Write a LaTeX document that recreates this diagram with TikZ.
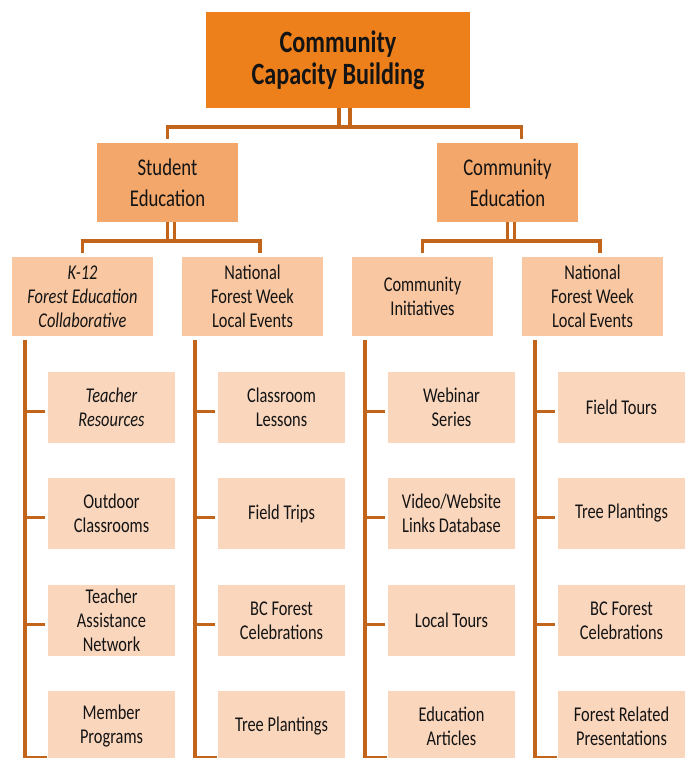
\documentclass[tikz,border=0pt]{standalone}
\usepackage{fontspec}
\setmainfont{Carlito}[FakeStretch=0.78]
\usetikzlibrary{calc}
\definecolor{topc}{HTML}{EE801C}
\definecolor{midc}{HTML}{F4A76B}
\definecolor{lthree}{HTML}{F9C7A1}
\definecolor{leafc}{HTML}{FAD6BD}
\definecolor{linec}{HTML}{C2651B}
\definecolor{txt}{HTML}{141414}
\tikzset{
  box/.style={inner sep=0pt, align=center, text=txt},
  topbox/.style={box, fill=topc, minimum width=264pt, minimum height=96pt, font=\fontsize{31}{32}\selectfont\bfseries},
  midbox/.style={box, fill=midc, minimum width=141pt, minimum height=79pt, font=\fontsize{24}{31}\selectfont},
  lvlbox/.style={box, fill=lthree, minimum width=141pt, minimum height=79pt, font=\fontsize{21}{24}\selectfont},
  leafbox/.style={box, fill=leafc, minimum width=127pt, minimum height=71pt, font=\fontsize{21}{24}\selectfont},
  conn/.style={draw=linec, line width=3.5pt},
}
\begin{document}
\begin{tikzpicture}[x=1pt,y=-1pt]
\useasboundingbox (0,0) rectangle (691,758);
% top
\node[topbox] (top) at (338,60) {Community\\Capacity Building};
% level 2
\node[midbox] (se) at (167.5,182.5) {Student\\Education};
\node[midbox] (ce) at (507.5,182.5) {Community\\Education};
% level 3
\node[lvlbox] (a) at (82.5,296.5) {\itshape K-12\\\itshape Forest Education\\\itshape Collaborative};
\node[lvlbox] (b) at (252.5,296.5) {National\\Forest Week\\Local Events};
\node[lvlbox] (c) at (422.5,296.5) {Community\\Initiatives};
\node[lvlbox] (d) at (592.5,296.5) {National\\Forest Week\\Local Events};
% leaves
\node[leafbox] (a1) at (111.5,407.5) {\itshape Teacher\\\itshape Resources};
\node[leafbox] (a2) at (111.5,513.5) {Outdoor\\Classrooms};
\node[leafbox] (a3) at (111.5,620.5) {Teacher\\Assistance\\Network};
\node[leafbox] (a4) at (111.5,726.5) {Member\\Programs};
\node[leafbox] (b1) at (281.5,407.5) {Classroom\\Lessons};
\node[leafbox] (b2) at (281.5,513.5) {Field Trips};
\node[leafbox] (b3) at (281.5,620.5) {BC Forest\\Celebrations};
\node[leafbox] (b4) at (281.5,726.5) {Tree Plantings};
\node[leafbox] (c1) at (451.5,407.5) {Webinar\\Series};
\node[leafbox] (c2) at (451.5,513.5) {Video/Website\\Links Database};
\node[leafbox] (c3) at (451.5,620.5) {Local Tours};
\node[leafbox] (c4) at (451.5,726.5) {Education\\Articles};
\node[leafbox] (d1) at (621.5,407.5) {Field Tours};
\node[leafbox] (d2) at (621.5,513.5) {Tree Plantings};
\node[leafbox] (d3) at (621.5,620.5) {BC Forest\\Celebrations};
\node[leafbox] (d4) at (621.5,726.5) {Forest Related\\Presentations};
% top connectors
\coordinate (tb) at (0,127);
\draw[conn] ([xshift=1pt]top.south) -- ([xshift=1pt]top.south |- tb);
\draw[conn] ([xshift=12pt]top.south) -- ([xshift=12pt]top.south |- tb);
\draw[conn] ([yshift=4pt]se.north) |- ([xshift=-1.75pt]tb -| top.south)
  -- ([xshift=13.75pt]tb -| top.south) -| ([xshift=14pt,yshift=4pt]ce.north);
% level-2 connectors
\foreach \p/\l/\r in {se/a/b, ce/c/d}{
  \coordinate (bar) at ($(\p.south)+(0,19)$);
  \draw[conn] ([xshift=0pt]\p.south) -- ([xshift=0pt]bar);
  \draw[conn] ([xshift=7pt]\p.south) -- ([xshift=7pt]bar);
  \draw[conn] ([yshift=4pt]\l.north) |- ([xshift=-1.75pt]bar)
    -- ([xshift=8.75pt]bar) -| ([xshift=7.5pt,yshift=4pt]\r.north);
}
% spines and branches
\foreach \p in {a,b,c,d}{
  \coordinate (\p s) at ($(\p.south west)+(13,4)$);
  \coordinate (\p e) at ($(\p.south west)+(13,421.5)$);
  \draw[conn] (\p s) -- (\p e -| \p s) -- ([xshift=-1pt]\p 4.west |- \p e);
  \foreach \i in {1,2,3}{
    \draw[conn] (\p s |- \p\i.west) ++(0,4) -- ([xshift=-3pt,yshift=-4pt]\p\i.west);
  }
}
\end{tikzpicture}
\end{document}
